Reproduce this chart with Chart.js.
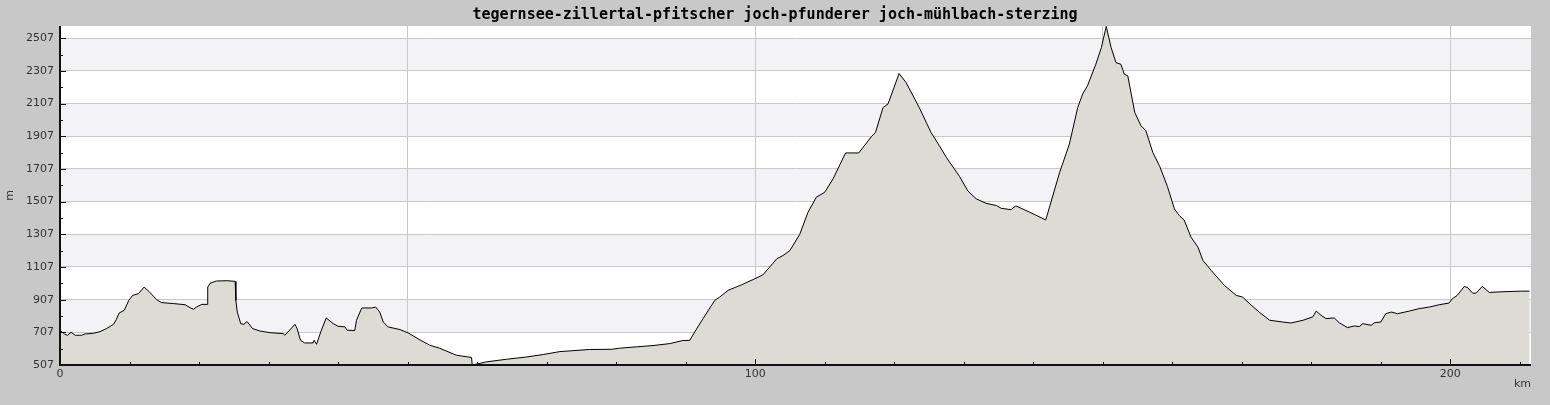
<!DOCTYPE html>
<html>
<head>
<meta charset="utf-8">
<script src="https://cdn.jsdelivr.net/npm/chart.js@4"></script>
<style>
  body { margin: 0; background: #c8c8c8; }
</style>
</head>
<body>
<canvas id="canvas" width="1550" height="405"></canvas>
<script>
// elevation profile, km along the route / metres
const km = [0, 0.7, 1.05, 1.6, 2.2, 3.1, 3.6, 4.8, 5.75, 6.7, 7.7, 8.1, 8.5, 9.25, 9.9, 10.45, 11.3, 12.1, 12.9, 13.9,
  14.6, 16.3, 18, 18.7, 19.2, 19.65, 20.4, 21.15, 21.25, 21.6, 22.5, 24, 25.2, 25.3, 25.5, 26, 26.45, 26.9, 27.7, 28.75,
  30.2, 32.1, 32.35, 33.8, 34.1, 34.6, 35.2, 36.4, 36.55, 36.9, 37.6, 38.3, 39.3, 40, 41, 41.3, 42.4, 42.65, 43.4, 44.8,
  45.4, 46, 46.5, 47.2, 48.9, 50.1, 51.8, 53.2, 54.6, 57, 59.2, 59.3, 60.1, 61.3, 64.2, 67.1, 69.5, 71.9, 76.2, 79.3,
  80.5, 82.9, 85.3, 87.7, 89.6, 90.6, 91.3, 92.5, 94.2, 94.9, 96.1, 98, 99.7, 101.1, 102.5, 103.1, 104, 105, 106.4, 107.6,
  108.8, 110, 111.2, 113, 114.9, 116.7, 117.3, 118.4, 119.1, 120.7, 121.7, 123.6, 125.3, 126.5, 127.5, 129.4, 130.6, 131.8, 133.2, 134.7,
  135.4, 136.8, 137.5, 139.5, 141.8, 143.8, 145.2, 146.4, 147.1, 147.8, 149, 149.8, 150.5, 151.2, 151.9, 152.6, 153.1, 153.6, 154.6, 155.5,
  156.2, 157.2, 158.2, 159.3, 160.3, 161, 161.7, 162.7, 163.7, 164.4, 165.6, 167.5, 169.2, 170.1, 171.1, 172.5, 174, 175.9, 177.1, 178.8,
  180.2, 180.7, 181.4, 182.1, 183.3, 184, 185.2, 186.2, 186.9, 187.4, 188.6, 189.1, 190, 190.7, 191.5, 192.4, 194.1, 195.5, 197, 198.4,
  199.8, 200.3, 201, 202, 202.5, 203.2, 203.7, 204.6, 205.6, 207.3, 210.2, 211.4];
const elevation = [719, 695, 689, 707, 689, 689, 697, 701, 711, 730, 756, 785, 825, 842, 903, 933, 944, 984, 953, 907,
  889, 883, 876, 858, 848, 862, 878, 878, 984, 1008, 1021, 1023, 1019, 903, 831, 760, 756, 773, 730, 715,
  705, 699, 689, 756, 730, 658, 642, 642, 658, 634, 720, 795, 760, 744, 740, 720, 718, 781, 856, 856,
  862, 831, 770, 740, 724, 703, 660, 628, 610, 567, 553, 508, 514, 526, 542, 556, 571, 589, 602, 603,
  610, 618, 626, 638, 657, 658, 709, 791, 903, 923, 964, 997, 1030, 1058, 1127, 1157, 1177, 1208, 1306, 1442,
  1534, 1564, 1646, 1805, 1805, 1904, 1930, 2083, 2104, 2291, 2236, 2083, 1930, 1849, 1778, 1661, 1572, 1524, 1497, 1483,
  1466, 1458, 1481, 1442, 1395, 1686, 1860, 2083, 2165, 2216, 2348, 2450, 2580, 2450, 2358, 2348, 2287, 2277, 2053, 1971,
  1941, 1808, 1722, 1600, 1463, 1422, 1395, 1289, 1228, 1147, 1086, 994, 933, 923, 883, 831, 781, 770, 764, 781,
  801, 837, 811, 791, 795, 766, 736, 746, 742, 760, 750, 766, 770, 821, 831, 821, 837, 852, 862, 876,
  886, 913, 933, 988, 980, 947, 947, 988, 951, 955, 959, 959];

const yTicks = [507, 707, 907, 1107, 1307, 1507, 1707, 1907, 2107, 2307, 2507];
const xGrid = [0, 50, 100, 150, 200];
const xLabels = [0, 100, 200];
const chartTitle = 'tegernsee-zillertal-pfitscher joch-pfunderer joch-mühlbach-sterzing';

const tickFont = { family: 'DejaVu Sans', size: 11 };

// grey page + striped plot area, drawn under the grid
const backdrop = {
  id: 'backdrop',
  beforeDraw(chart) {
    const { ctx, chartArea: a, scales: { y } } = chart;
    ctx.save();
    ctx.fillStyle = '#c8c8c8';
    ctx.fillRect(0, 0, chart.width, chart.height);
    ctx.fillStyle = '#ffffff';
    ctx.fillRect(a.left, a.top, a.right - a.left, a.bottom - a.top);
    ctx.fillStyle = '#f3f2f5';
    for (let i = 1; i + 1 < yTicks.length; i += 2) {
      const top = y.getPixelForValue(yTicks[i + 1]);
      const bot = y.getPixelForValue(yTicks[i]);
      ctx.fillRect(a.left, top, a.right - a.left, bot - top);
    }
    ctx.restore();
  }
};

// axis lines and inward tick marks, drawn over the filled profile
const axes = {
  id: 'axes',
  afterDatasetsDraw(chart) {
    const { ctx, chartArea: a, scales: { x, y } } = chart;
    ctx.save();
    ctx.strokeStyle = '#111';
    ctx.lineWidth = 2;
    ctx.beginPath();
    ctx.moveTo(a.left, a.top);
    ctx.lineTo(a.left, a.bottom);
    ctx.lineTo(a.right, a.bottom);
    ctx.stroke();
    ctx.lineWidth = 1;
    ctx.beginPath();
    for (let v = yTicks[0]; v <= y.max; v += 100) {
      const py = Math.round(y.getPixelForValue(v)) + 0.5;
      const len = (v - yTicks[0]) % 200 === 0 ? 6 : 3;
      ctx.moveTo(a.left, py);
      ctx.lineTo(a.left + len, py);
    }
    for (let k = 10; k <= x.max; k += 10) {
      const px = Math.round(x.getPixelForValue(k)) + 0.5;
      const len = k % 100 === 0 ? 6 : 3;
      ctx.moveTo(px, a.bottom);
      ctx.lineTo(px, a.bottom - len);
    }
    ctx.stroke();
    ctx.restore();
  }
};

const ctx = document.getElementById('canvas');

new Chart(ctx, {
  type: 'line',
  data: {
    datasets: [{
      data: km.map((k, i) => ({ x: k, y: elevation[i] })),
      borderColor: '#000',
      borderWidth: 1,
      backgroundColor: '#dcdbd6',
      fill: 'start',
      pointRadius: 0,
      tension: 0
    }]
  },
  options: {
    responsive: false,
    animation: false,
    layout: { padding: 0 },
    plugins: {
      legend: { display: false },
      tooltip: { enabled: false },
      title: {
        display: true,
        text: chartTitle,
        color: '#000',
        font: { family: 'DejaVu Sans Mono', size: 15, weight: 'bold' },
        padding: { top: 6, bottom: 2 }
      }
    },
    scales: {
      x: {
        type: 'linear',
        min: 0,
        max: 211.6,
        afterBuildTicks: s => { s.ticks = xGrid.map(v => ({ value: v })); },
        afterFit: s => { s.height = 40; },
        ticks: {
          autoSkip: false,
          maxRotation: 0,
          padding: 3,
          color: '#333',
          font: tickFont,
          callback: v => xLabels.includes(v) ? String(v) : ''
        },
        grid: { color: '#c8c8c8', drawTicks: false },
        border: { display: false },
        title: { display: true, text: 'km', align: 'end', color: '#333', font: tickFont, padding: { top: 0, bottom: 14 } }
      },
      y: {
        min: 507,
        max: 2582,
        afterBuildTicks: s => { s.ticks = yTicks.map(v => ({ value: v })); },
        afterFit: s => { s.width = 60; },
        ticks: { padding: 6, color: '#333', font: tickFont, callback: v => String(v) },
        grid: { color: '#c8c8c8', drawTicks: false },
        border: { display: false },
        title: { display: true, text: 'm', color: '#333', font: tickFont, padding: { top: 4, bottom: 0 } }
      },
      // empty strip on the right so the plot stops short of the edge
      gap: {
        position: 'right',
        afterFit: s => { s.width = 19; },
        ticks: { display: false },
        grid: { display: false },
        border: { display: false }
      }
    }
  },
  plugins: [backdrop, axes]
});
</script>
</body>
</html>
